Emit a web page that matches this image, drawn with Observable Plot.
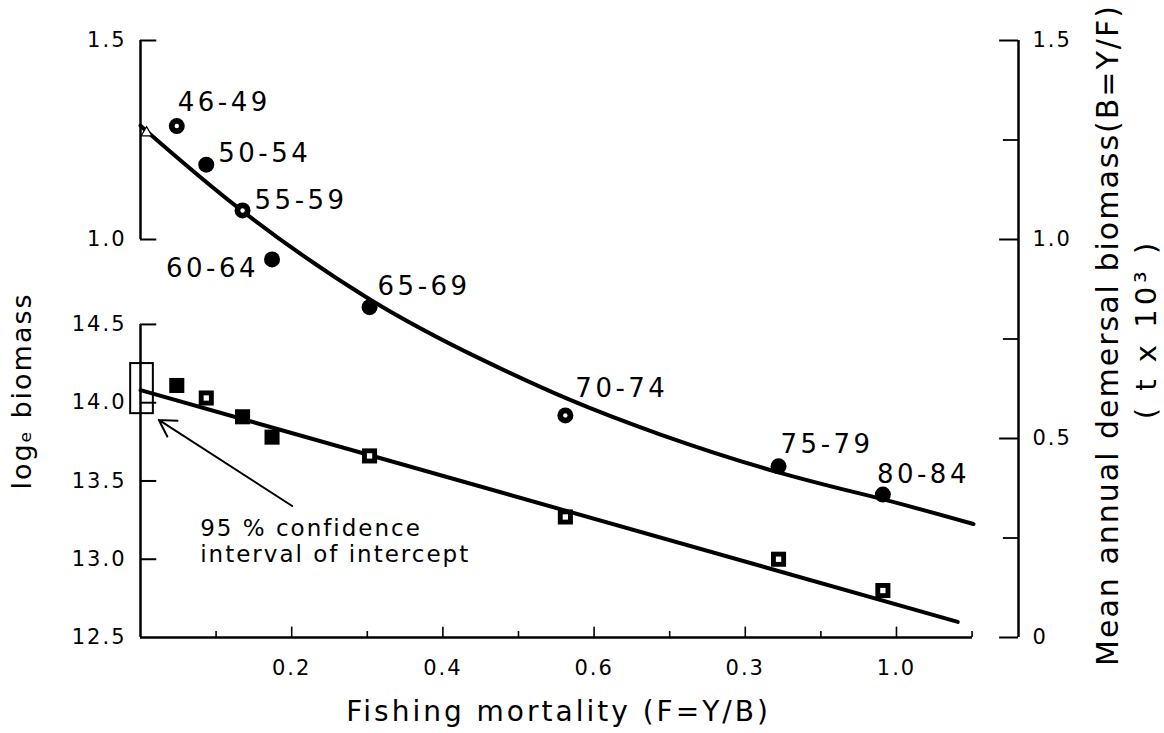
<!DOCTYPE html>
<html><head><meta charset="utf-8">
<script src="https://cdn.jsdelivr.net/npm/d3@7"></script>
<script src="https://cdn.jsdelivr.net/npm/@observablehq/plot@0.6"></script>
<style>
html,body{margin:0;padding:0;background:#fff;}
#chart svg text{letter-spacing:2px;}
</style></head><body><div id="chart"></div>
<script>
// ---- data ----
const periods = ["46-49","50-54","55-59","60-64","65-69","70-74","75-79","80-84"];
const fishingMortality = [0.048, 0.087, 0.135, 0.174, 0.303, 0.562, 0.844, 0.982];
const meanBiomass = [1.285, 1.188, 1.073, 0.950, 0.830, 0.558, 0.430, 0.359];   // right axis, t x 10^3
const logBiomass = [14.11, 14.03, 13.91, 13.78, 13.66, 13.27, 13.00, 12.80];     // left axis, log_e
const circleHollow = [true, false, true, false, false, true, false, false];
const squareHollow = [false, true, false, false, true, true, true, true];

const fitCurveF = [0, 0.1345, 0.303, 0.4497, 0.5644, 0.6878, 0.8439, 0.9824, 1.1019];
const fitCurveB = [1.286, 1.072, 0.850, 0.700, 0.600, 0.510, 0.415, 0.347, 0.285];
const fitLineF = [0, 1.081];
const fitLineLog = [14.08, 12.60];

const ciF = [-0.013, 0.017];
const ciLog = [13.93, 14.25];
const arrowTail = [0.2007, 13.34];
const arrowHead = [0.0242, 13.89];
const annotationAt = [0.079, 13.27];
const annotationText = "95 % confidence\ninterval of intercept";

const xTicks = [0.2, 0.4, 0.6, 0.8, 1.0];
const xTickLabels = ["0.2", "0.4", "0.6", "0.3", "1.0"];
const xMinorTicks = [0.1, 0.3, 0.5, 0.7, 0.9, 1.1];
const leftUpperTicks = [1.0, 1.5];
const leftUpperLabels = ["1.0", "1.5"];
const leftLogTicks = [12.5, 13.0, 13.5, 14.0, 14.5];
const leftLogLabels = ["12.5", "13.0", "13.5", "14.0", "14.5"];
const rightTicks = [0, 0.5, 1.0, 1.5];
const rightLabels = ["0", "0.5", "1.0", "1.5"];
const rightMinorTicks = [0.25, 0.75, 1.25];

const yTitleLeft = "logₑ biomass";
const yTitleRight = "Mean annual demersal biomass(B=Y/F)";
const yTitleRightUnit = "( t x 10³ )";
const xTitle = "Fishing mortality (F=Y/B)";

// ---- layout ----
const X_MAX = 1.1614;           // right axis position
const X_AXIS_END = 1.1005;
const LOG_BASE = 12.5, LOG_PER_B = 0.3933;   // left log axis drawn on the biomass scale
const toB = L => (L - LOG_BASE) * LOG_PER_B;
const labelNudge = {
  "46-49": [1, -23, "start"], "50-54": [12, -11, "start"], "55-59": [12, -10, "start"],
  "60-64": [-13, 9, "end"], "65-69": [8, -20, "start"], "70-74": [10, -27, "start"],
  "75-79": [2, -22, "start"], "80-84": [-6, -20, "start"]
};

const circles = periods.map((p, i) => ({period: p, F: fishingMortality[i], B: meanBiomass[i], hollow: circleHollow[i]}));
const squares = periods.map((p, i) => ({period: p, F: fishingMortality[i], L: logBiomass[i], hollow: squareHollow[i]}));
const curve = fitCurveF.map((f, i) => ({F: f, B: fitCurveB[i]}));
const line = fitLineF.map((f, i) => ({F: f, L: fitLineLog[i]}));

const leftPos = [...leftUpperTicks, ...leftLogTicks.map(toB)];
const leftLab = new Map(leftPos.map((p, i) => [p, [...leftUpperLabels, ...leftLogLabels][i]]));
const xLab = new Map(xTicks.map((t, i) => [t, xTickLabels[i]]));
const rLab = new Map(rightTicks.map((t, i) => [t, rightLabels[i]]));

const TICK = 0.0215;   // tick length in x units
const AX = 2.5;

const chart = Plot.plot({
  width: 1164, height: 733,
  marginLeft: 140, marginRight: 146, marginTop: 40, marginBottom: 96,
  x: {domain: [0, X_MAX]},
  y: {domain: [0, 1.5]},
  style: {fontFamily: "DejaVu Sans", fontSize: "21px", color: "black", background: "white"},
  marks: [
    // left axis (two segments)
    Plot.ruleX([0], {y1: 1.0, y2: 1.5, strokeWidth: AX}),
    Plot.ruleX([0], {y1: toB(12.5), y2: toB(14.5), strokeWidth: AX}),
    Plot.ruleY([...leftUpperTicks, ...leftLogTicks.slice(1).map(toB)], {x1: 0, x2: TICK, strokeWidth: 2}),
    Plot.axisY(leftPos, {anchor: "left", tickSize: 0, tickPadding: 14, tickFormat: d => leftLab.get(d), label: null, fontSize: 21}),
    // right axis
    Plot.ruleX([X_MAX], {y1: 0, y2: 1.5, strokeWidth: AX}),
    Plot.ruleY(rightTicks, {x1: X_MAX - 0.025, x2: X_MAX, strokeWidth: 2}),
    Plot.ruleY(rightMinorTicks, {x1: X_MAX - 0.02, x2: X_MAX, strokeWidth: 1.8}),
    Plot.axisY(rightTicks, {anchor: "right", tickSize: 0, tickPadding: 14, tickFormat: d => rLab.get(d), label: null, fontSize: 21}),
    // bottom axis
    Plot.ruleY([0], {x1: 0, x2: X_AXIS_END, strokeWidth: AX}),
    Plot.ruleX(xTicks, {y1: 0, y2: 0.026, strokeWidth: 1.6}),
    Plot.ruleX(xMinorTicks, {y1: 0, y2: 0.015, strokeWidth: 1.6}),
    Plot.axisX(xTicks, {anchor: "bottom", tickSize: 0, tickPadding: 23, tickFormat: d => xLab.get(d), label: null, fontSize: 21}),
    // axis titles
    Plot.text([yTitleLeft], {text: d => d, frameAnchor: "left", textAnchor: "middle", dx: -118, dy: 52, rotate: -90, fontSize: 27}),
    Plot.text([yTitleRight], {text: d => d, frameAnchor: "right", textAnchor: "middle", dx: 90, dy: -4, rotate: -90, fontSize: 30}),
    Plot.text([yTitleRightUnit], {text: d => d, frameAnchor: "right", textAnchor: "middle", dx: 128, dy: -10, rotate: -90, fontSize: 29}),
    Plot.text([xTitle], {text: d => d, frameAnchor: "bottom", textAnchor: "middle", dx: -21, dy: 83, fontSize: 28}),
    // fitted lines
    Plot.line(curve, {x: "F", y: "B", curve: "natural", strokeWidth: 4}),
    Plot.line(line, {x: "F", y: d => toB(d.L), strokeWidth: 4}),
    // confidence interval box and arrow
    Plot.rect([0], {x1: ciF[0], x2: ciF[1], y1: toB(ciLog[0]), y2: toB(ciLog[1]), fill: "none", stroke: "black", strokeWidth: 2}),
    Plot.arrow([0], {x1: arrowTail[0], y1: toB(arrowTail[1]), x2: arrowHead[0], y2: toB(arrowHead[1]), strokeWidth: 2, headLength: 14}),
    Plot.text([annotationText], {text: d => d, x: annotationAt[0], y: toB(annotationAt[1]), textAnchor: "start", lineAnchor: "top", fontSize: 23, lineHeight: 1.15}),
    // intercept marker
    Plot.dot([0], {x: 0.008, y: 1.268, symbol: "triangle", r: 4, fill: "white", stroke: "black", strokeWidth: 1.2}),
    // data points
    Plot.dot(circles, {x: "F", y: "B", r: 8, fill: "black"}),
    Plot.dot(circles.filter(d => d.hollow), {x: "F", y: "B", r: 2.2, fill: "white"}),
    Plot.dot(squares, {x: "F", y: d => toB(d.L), symbol: "square", r: 8.5, fill: "black"}),
    Plot.dot(squares.filter(d => d.hollow), {x: "F", y: d => toB(d.L), symbol: "square", r: 3, fill: "white"}),
    // period labels
    ...circles.map(c => Plot.text([c], {x: "F", y: "B", text: "period", dx: labelNudge[c.period][0], dy: labelNudge[c.period][1], textAnchor: labelNudge[c.period][2], fontSize: 26}))
  ]
});
document.getElementById("chart").appendChild(chart);

// per-text letter spacing to mimic the hand lettering
const spacing = new Map([[xTitle, "3px"], [yTitleRightUnit, "4px"], ...periods.map(p => [p, "3.5px"])]);
d3.select(chart).selectAll("text").each(function () {
  const s = spacing.get(this.textContent);
  if (s) this.setAttribute("letter-spacing", s), this.style.letterSpacing = s;
});
</script></body></html>
